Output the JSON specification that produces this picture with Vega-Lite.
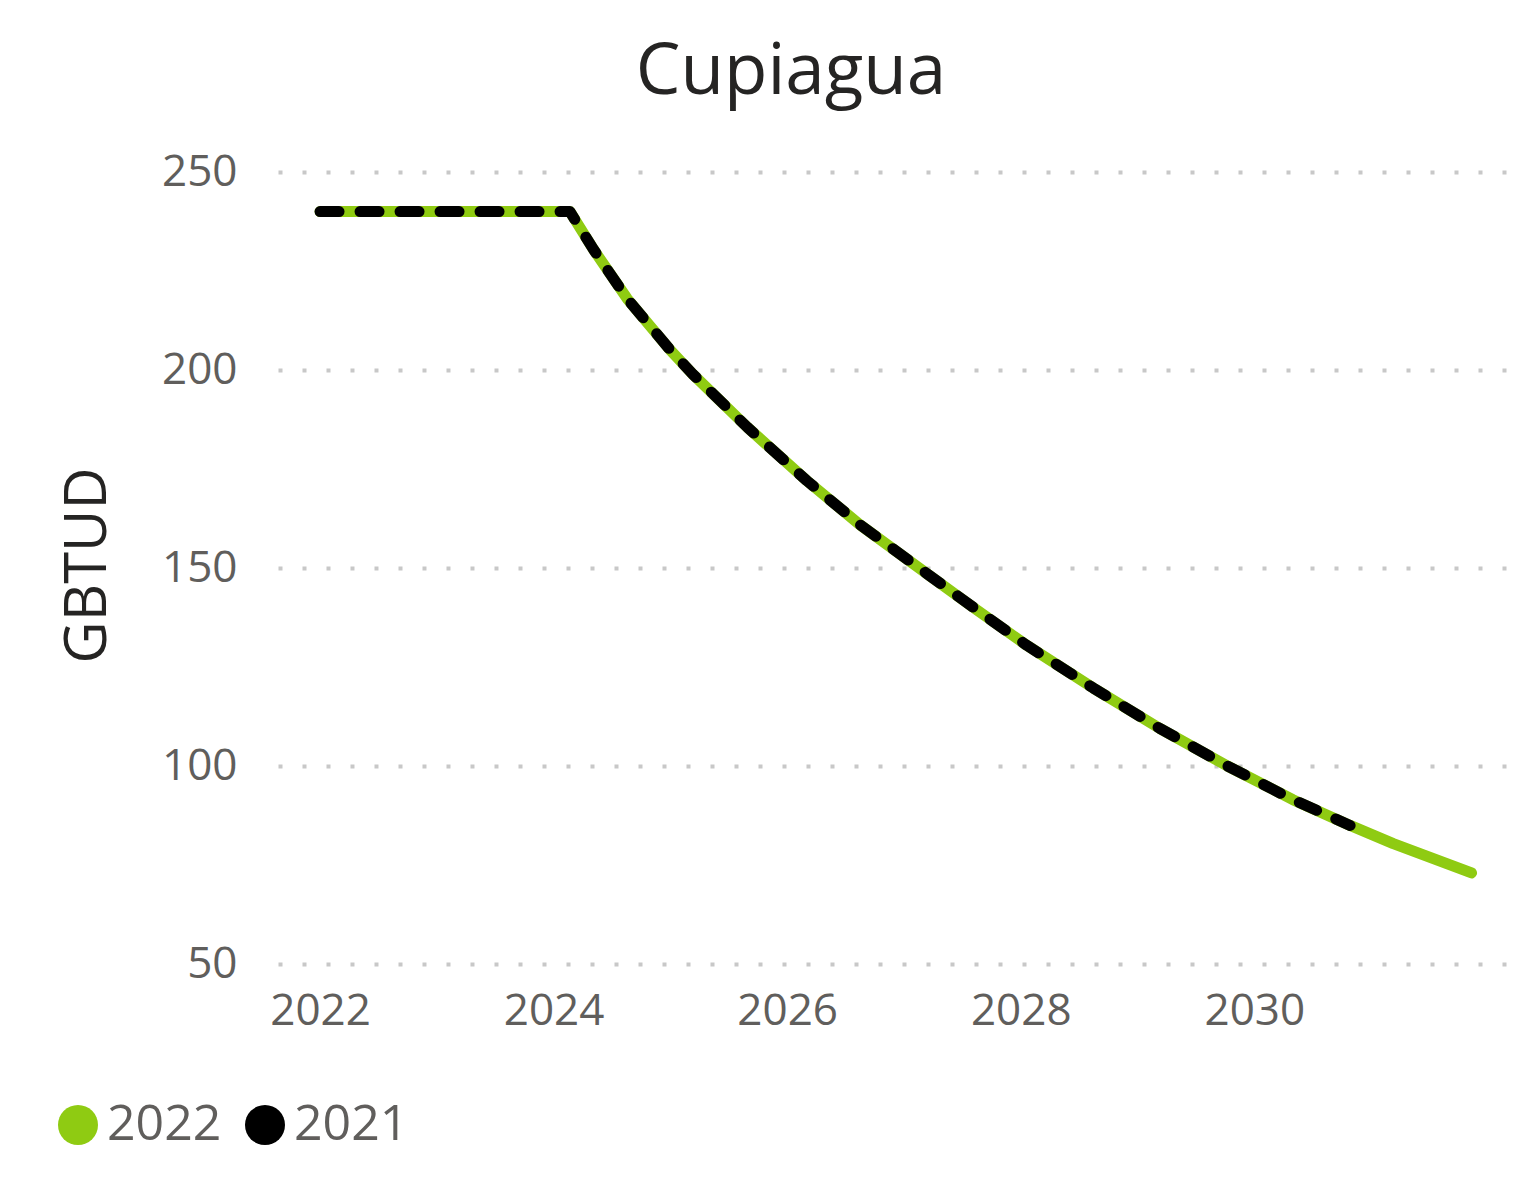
{
  "$schema": "https://vega.github.io/schema/vega-lite/v6.json",
  "width": 1228,
  "height": 792,
  "autosize": {"type": "none"},
  "padding": {"left": 278, "top": 172, "right": 10, "bottom": 223},
  "background": "#ffffff",
  "config": {
    "view": {"stroke": null},
    "font": "Open Sans",
    "axis": {"domain": false, "ticks": false, "tickSize": 0}
  },
  "title": {
    "text": "Cupiagua",
    "fontSize": 71,
    "font": "Open Sans",
    "fontWeight": "normal",
    "color": "#252423",
    "anchor": "middle",
    "frame": "group",
    "baseline": "alphabetic",
    "offset": 75,
    "dx": -101,
    "dy": 90
  },
  "datasets": {
    "serie": [
      {"serie": "2022", "anio": 2022.0, "gbtud": 240},
      {"serie": "2022", "anio": 2024.14, "gbtud": 240},
      {"serie": "2022", "anio": 2024.34, "gbtud": 230.5},
      {"serie": "2022", "anio": 2024.63, "gbtud": 218.0},
      {"serie": "2022", "anio": 2025.0, "gbtud": 205.0},
      {"serie": "2022", "anio": 2025.19, "gbtud": 199.0},
      {"serie": "2022", "anio": 2025.66, "gbtud": 185.5},
      {"serie": "2022", "anio": 2026.17, "gbtud": 172.0},
      {"serie": "2022", "anio": 2026.62, "gbtud": 161.0},
      {"serie": "2022", "anio": 2027.2, "gbtud": 148.5},
      {"serie": "2022", "anio": 2027.62, "gbtud": 139.5},
      {"serie": "2022", "anio": 2028.05, "gbtud": 130.5},
      {"serie": "2022", "anio": 2028.62, "gbtud": 119.7},
      {"serie": "2022", "anio": 2029.19, "gbtud": 109.5},
      {"serie": "2022", "anio": 2029.77, "gbtud": 100.0},
      {"serie": "2022", "anio": 2030.33, "gbtud": 91.5},
      {"serie": "2022", "anio": 2030.82, "gbtud": 85.0},
      {"serie": "2022", "anio": 2031.19, "gbtud": 80.4},
      {"serie": "2022", "anio": 2031.86, "gbtud": 73.0},
      {"serie": "2021", "anio": 2022.0, "gbtud": 240},
      {"serie": "2021", "anio": 2024.14, "gbtud": 240},
      {"serie": "2021", "anio": 2024.34, "gbtud": 230.5},
      {"serie": "2021", "anio": 2024.63, "gbtud": 218.0},
      {"serie": "2021", "anio": 2025.0, "gbtud": 205.0},
      {"serie": "2021", "anio": 2025.19, "gbtud": 199.0},
      {"serie": "2021", "anio": 2025.66, "gbtud": 185.5},
      {"serie": "2021", "anio": 2026.17, "gbtud": 172.0},
      {"serie": "2021", "anio": 2026.62, "gbtud": 161.0},
      {"serie": "2021", "anio": 2027.2, "gbtud": 148.5},
      {"serie": "2021", "anio": 2027.62, "gbtud": 139.5},
      {"serie": "2021", "anio": 2028.05, "gbtud": 130.5},
      {"serie": "2021", "anio": 2028.62, "gbtud": 119.7},
      {"serie": "2021", "anio": 2029.19, "gbtud": 109.5},
      {"serie": "2021", "anio": 2029.77, "gbtud": 100.0},
      {"serie": "2021", "anio": 2030.33, "gbtud": 91.5},
      {"serie": "2021", "anio": 2030.82, "gbtud": 85.0}
    ]
  },
  "data": {"name": "serie"},
  "encoding": {
    "x": {
      "field": "anio",
      "type": "quantitative",
      "scale": {"domain": [2021.64, 2032.155], "nice": false, "zero": false},
      "axis": {
        "values": [2022, 2024, 2026, 2028, 2030],
        "format": "d",
        "title": null,
        "grid": false,
        "labelFontSize": 44,
        "labelColor": "#605e5c",
        "labelBaseline": "alphabetic",
        "labelPadding": 60,
        "labelFlush": false
      }
    },
    "y": {
      "field": "gbtud",
      "type": "quantitative",
      "scale": {"domain": [50, 250], "nice": false, "zero": false},
      "axis": {
        "values": [50, 100, 150, 200, 250],
        "title": "GBTUD",
        "titleFontSize": 58,
        "titleFontWeight": "normal",
        "titleColor": "#252423",
        "titleAngle": -90,
        "titleAlign": "center",
        "titleBaseline": "alphabetic",
        "titleX": -173,
        "titleY": 393,
        "labelFontSize": 44,
        "labelColor": "#605e5c",
        "labelPadding": 41,
        "grid": true,
        "gridColor": "#c8c8c8",
        "gridDash": [4, 20],
        "gridWidth": 4
      }
    },
    "color": {
      "field": "serie",
      "type": "nominal",
      "scale": {"domain": ["2022", "2021"], "range": ["#8fcb12", "#000000"]},
      "legend": {
        "title": null,
        "orient": "none",
        "direction": "horizontal",
        "legendX": -225,
        "legendY": 928,
        "symbolType": "circle",
        "symbolSize": 1600,
        "symbolStrokeWidth": 0,
        "labelFontSize": 50,
        "labelColor": "#605e5c",
        "labelOffset": 4,
        "columnPadding": 18,
        "padding": 0,
        "encode": {
          "symbols": {"update": {"fill": {"scale": "color", "field": "value"}, "strokeDash": {"value": []}}}
        }
      }
    }
  },
  "layer": [
    {
      "transform": [{"filter": "datum.serie === '2022'"}],
      "mark": {"type": "line", "strokeWidth": 11, "strokeCap": "round", "strokeJoin": "round", "interpolate": "linear"}
    },
    {
      "transform": [{"filter": "datum.serie === '2021'"}],
      "mark": {"type": "line", "strokeWidth": 11, "strokeCap": "round", "strokeJoin": "round", "strokeDash": [19, 21], "interpolate": "linear"}
    }
  ]
}
